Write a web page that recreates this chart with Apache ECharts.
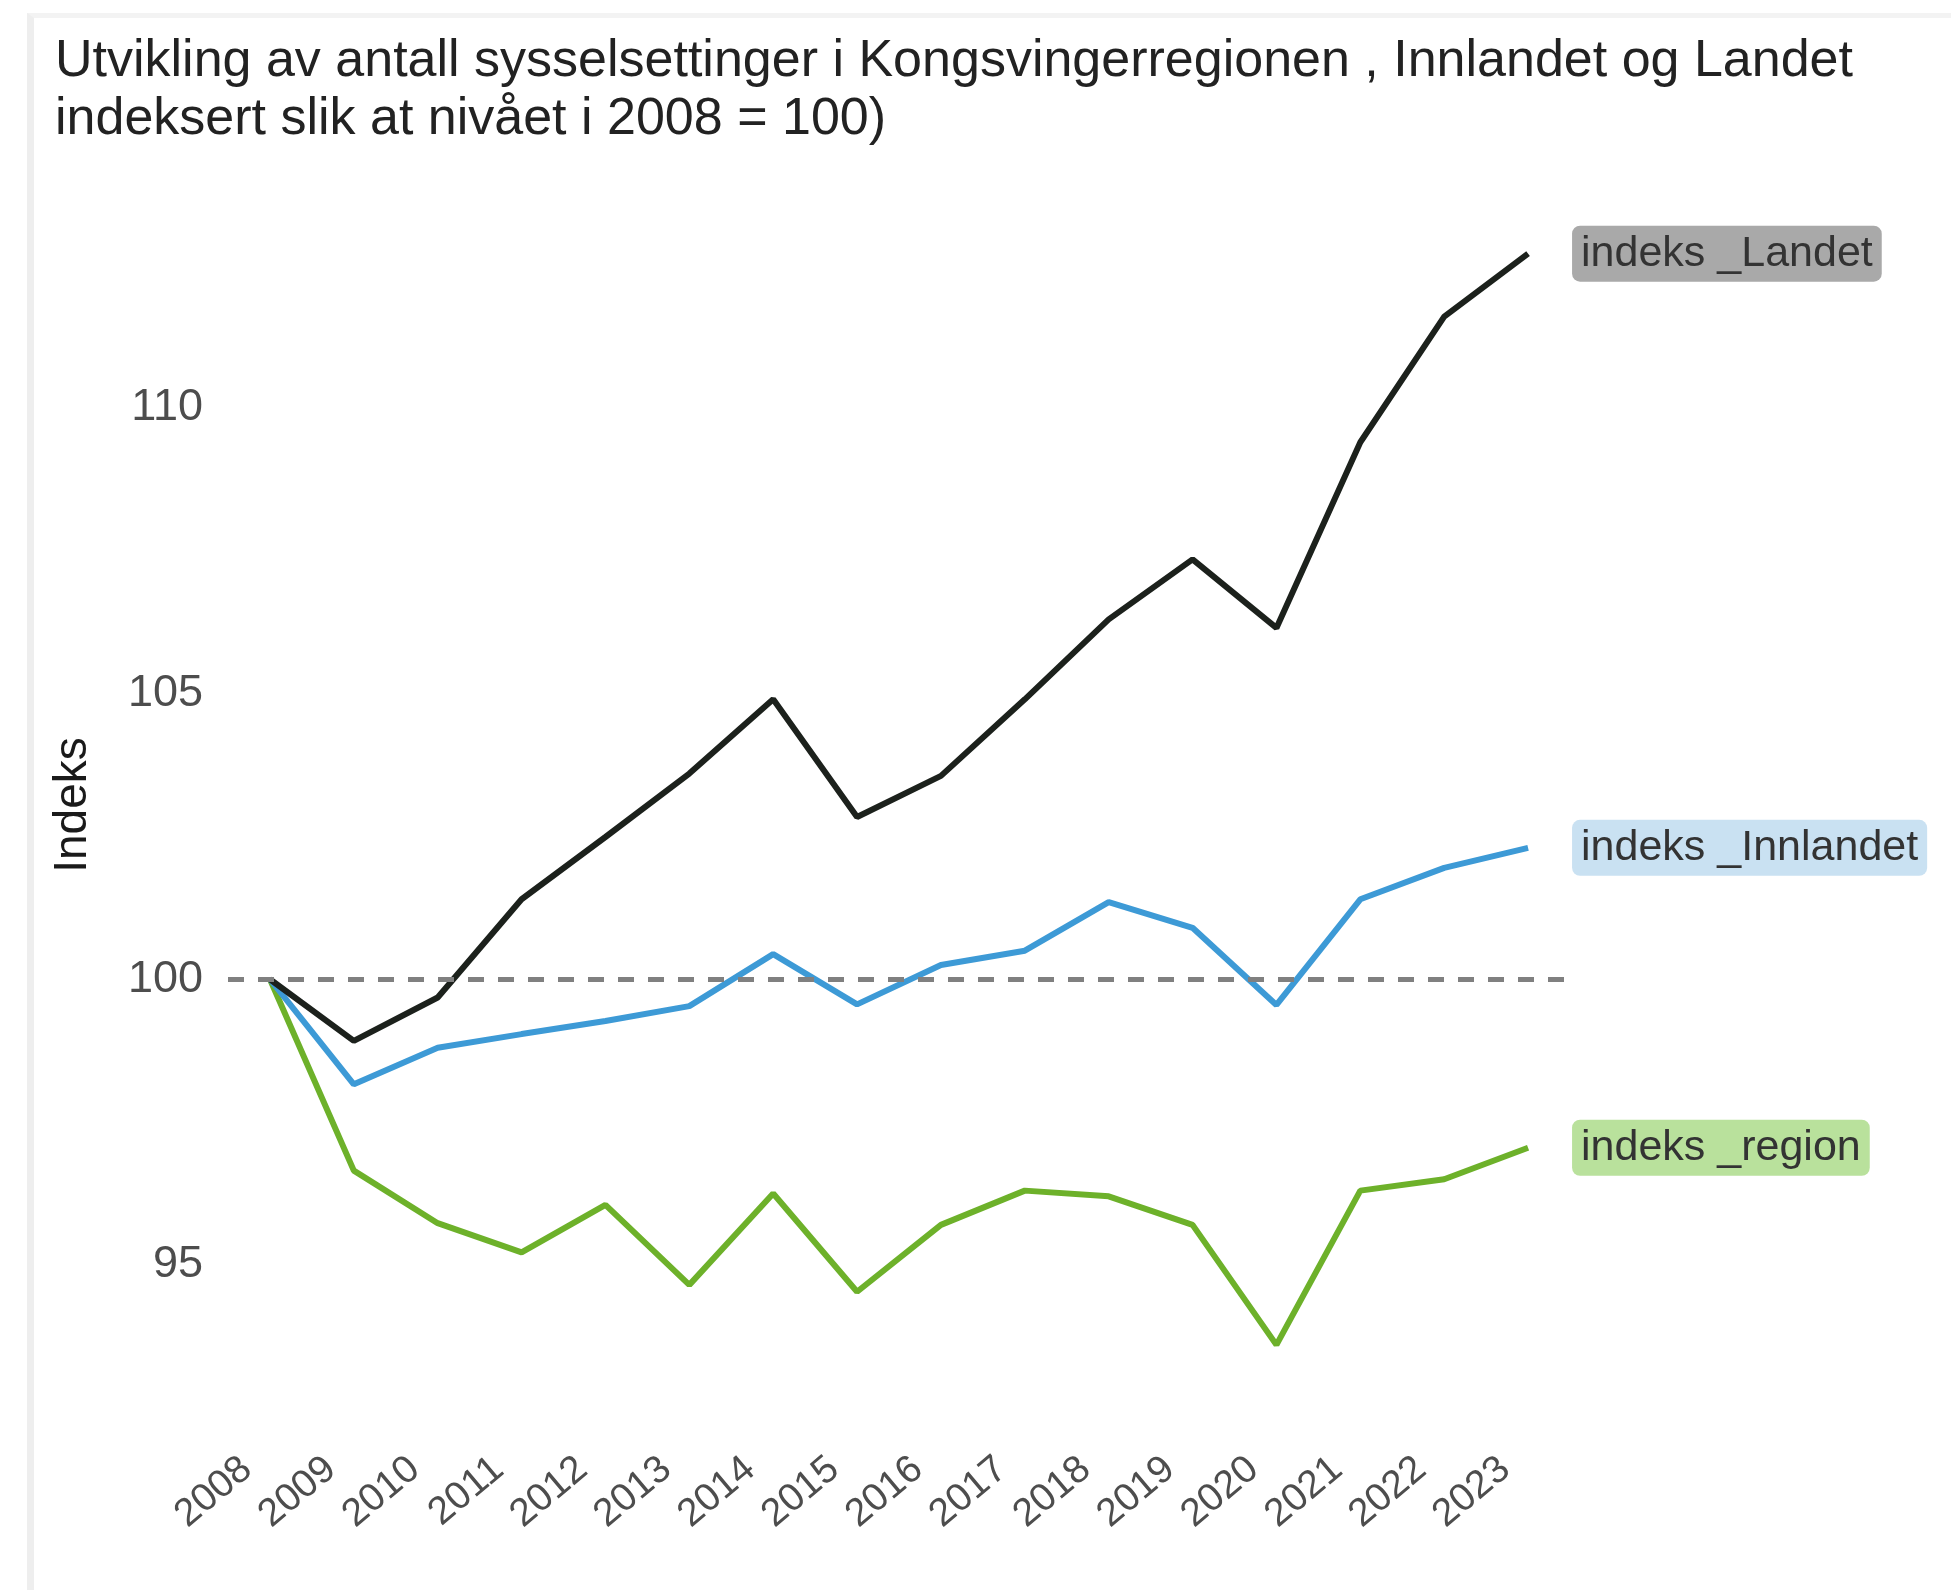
<!DOCTYPE html>
<html lang="no">
<head>
<meta charset="UTF-8">
<title>Sysselsetting indeks</title>
<script src="https://cdn.jsdelivr.net/npm/echarts@6/dist/echarts.min.js"></script>
<style>
    html, body {
        margin: 0;
        padding: 0;
        background: #ffffff;
    }
    #frame {
        position: absolute;
        left: 27px;
        top: 13px;
        width: 1924px;
        height: 1577px;
        border-left: 7px solid #eeeeee;
        border-top: 5px solid #f3f3f3;
        box-sizing: border-box;
        pointer-events: none;
    }
    #main {
        width: 1951px;
        height: 1590px;
    }
</style>
</head>
<body>
<div id="main"></div>
<div id="frame"></div>
<script>
    // data
    var years = ['2008', '2009', '2010', '2011', '2012', '2013', '2014', '2015',
        '2016', '2017', '2018', '2019', '2020', '2021', '2022', '2023'];
    var indeksLandet = [100, 98.92, 99.68, 101.4, 102.49, 103.6, 104.9, 102.84,
        103.56, 104.9, 106.3, 107.35, 106.15, 109.4, 111.6, 112.7];
    var indeksInnlandet = [100, 98.16, 98.8, 99.04, 99.27, 99.53, 100.44, 99.56,
        100.25, 100.5, 101.35, 100.9, 99.55, 101.4, 101.95, 102.3];
    var indeksRegion = [100, 96.65, 95.73, 95.22, 96.05, 94.65, 96.25, 94.53,
        95.7, 96.3, 96.2, 95.7, 93.6, 96.3, 96.5, 97.05];
    var yTicks = [95, 100, 105, 110];
    var baseline = 100;

    var font = '"Liberation Sans", Arial, sans-serif';
    var chart = echarts.init(document.getElementById('main'));

    function lineSeries(name, data, color, boxColor) {
        return {
            name: name,
            type: 'line',
            data: data,
            symbol: 'none',
            lineStyle: { color: color, width: 6 },
            itemStyle: { color: color },
            z: 3,
            endLabel: {
                show: true,
                formatter: '{a}',
                distance: 44,
                fontFamily: font,
                fontSize: 43,
                color: '#333333',
                backgroundColor: boxColor,
                borderRadius: 8,
                padding: [7, 9, 6, 9]
            }
        };
    }

    var option = {
        animation: false,
        backgroundColor: '#ffffff',
        title: {
            text: 'Utvikling av antall sysselsettinger i Kongsvingerregionen , Innlandet og Landet\nindeksert slik at nivået i 2008 = 100)',
            left: 50,
            top: 28,
            textStyle: {
                fontFamily: font,
                fontSize: 52,
                fontWeight: 'normal',
                color: '#222222',
                lineHeight: 58
            }
        },
        grid: {
            left: 228,
            right: 381,
            top: 208,
            bottom: 188,
            containLabel: false,
            outerBoundsMode: 'none'
        },
        xAxis: {
            type: 'category',
            data: years,
            boundaryGap: true,
            axisLine: { show: false },
            axisTick: { show: false },
            splitLine: { show: false },
            axisLabel: {
                interval: 0,
                rotate: 40,
                margin: 43,
                padding: [0, 30, 0, 0],
                fontFamily: font,
                fontSize: 39,
                color: '#4d4d4d',
                hideOverlap: false
            }
        },
        yAxis: {
            type: 'value',
            min: 92.6,
            max: 113.5,
            name: 'Indeks',
            nameLocation: 'middle',
            nameRotate: 90,
            nameGap: 132,
            nameTextStyle: {
                fontFamily: font,
                fontSize: 46,
                color: '#1a1a1a'
            },
            axisLine: { show: false },
            axisTick: { show: false },
            splitLine: { show: false },
            axisLabel: {
                customValues: yTicks,
                margin: 25,
                fontFamily: font,
                fontSize: 45,
                color: '#4d4d4d'
            }
        },
        series: [
            {
                name: 'ref',
                type: 'line',
                data: [],
                z: 1,
                markLine: {
                    silent: true,
                    symbol: 'none',
                    label: { show: false },
                    lineStyle: { color: '#808080', width: 5, type: [16, 14] },
                    data: [{ yAxis: baseline }]
                }
            },
            lineSeries('indeks _region', indeksRegion, '#6db12a', '#b9e19c'),
            lineSeries('indeks _Innlandet', indeksInnlandet, '#3d9ad6', '#c9e1f2'),
            lineSeries('indeks _Landet', indeksLandet, '#1c211c', '#a9a9a9')
        ]
    };
    chart.setOption(option);
</script>
</body>
</html>
